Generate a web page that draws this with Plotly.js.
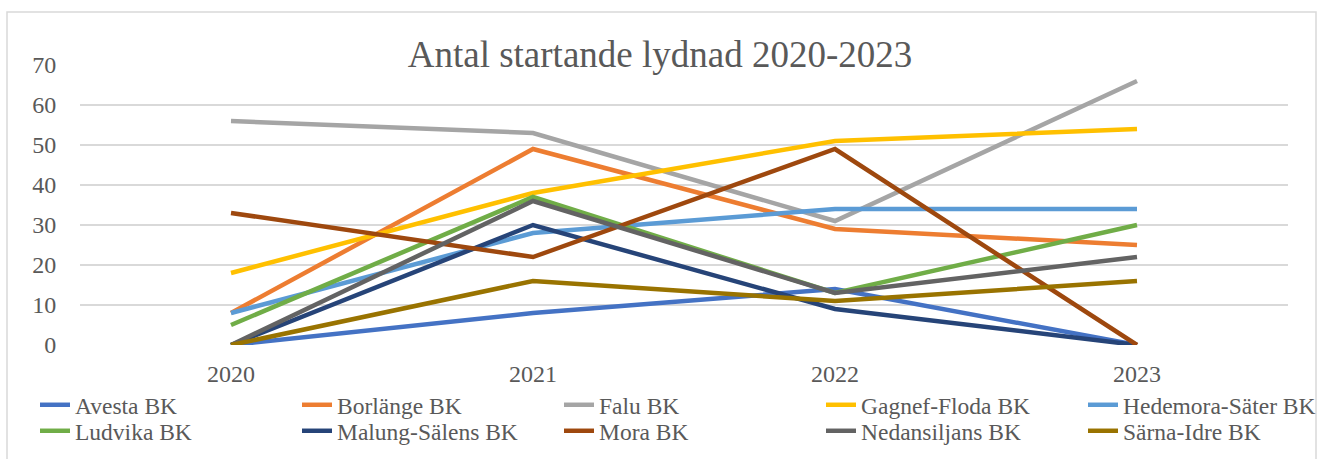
<!DOCTYPE html>
<html>
<head>
<meta charset="utf-8">
<script src="https://cdn.plot.ly/plotly-3.0.1.min.js"></script>
<style>html,body{margin:0;padding:0;background:#fff;}#chart{width:1320px;height:459px;}</style>
</head>
<body>
<div id="chart"></div>
<script>
const years = ["2020", "2021", "2022", "2023"];
const clubs = ["Avesta BK", "Borlänge BK", "Falu BK", "Gagnef-Floda BK", "Hedemora-Säter BK",
               "Ludvika BK", "Malung-Sälens BK", "Mora BK", "Nedansiljans BK", "Särna-Idre BK"];
const avesta      = [0, 8, 14, 0];
const borlange    = [8, 49, 29, 25];
const falu        = [56, 53, 31, 66];
const gagnef      = [18, 38, 51, 54];
const hedemora    = [8, 28, 34, 34];
const ludvika     = [5, 37, 13, 30];
const malung      = [0, 30, 9, 0];
const mora        = [33, 22, 49, 0];
const nedansiljan = [0, 36, 13, 22];
const sarna       = [0, 16, 11, 16];
const yTicks = [0, 10, 20, 30, 40, 50, 60, 70];

const seriesValues = [avesta, borlange, falu, gagnef, hedemora, ludvika, malung, mora, nedansiljan, sarna];
const colors = ["#4472C4", "#ED7D31", "#A5A5A5", "#FFC000", "#5B9BD5",
                "#70AD47", "#264478", "#9E480E", "#636363", "#997300"];

const W = 1320, H = 459;
const font = "Liberation Serif, Times New Roman, serif";
const textColor = "#595959";

const traces = clubs.map((name, i) => ({
  type: "scatter",
  mode: "lines",
  name: name,
  x: years,
  y: seriesValues[i],
  line: {color: colors[i], width: 4.5},
  hoverinfo: "skip",
  legend: i === 0 ? "legend" : "legend" + (i + 1)
}));

const layout = {
  width: W, height: H,
  paper_bgcolor: "#ffffff",
  plot_bgcolor: "#ffffff",
  margin: {l: 80, r: 32, t: 65, b: 114, autoexpand: false},
  font: {family: font, color: textColor, size: 24},
  title: {
    text: "Antal startande lydnad 2020-2023",
    font: {family: font, size: 37, color: textColor},
    x: 0.5, xref: "container", xanchor: "center",
    y: 1 - 54 / H, yref: "container", yanchor: "middle",
    automargin: false
  },
  xaxis: {
    type: "category",
    categoryorder: "array",
    categoryarray: years,
    range: [-0.5, 3.5],
    showgrid: false,
    zeroline: false,
    showline: false,
    automargin: false,
    tickangle: 0,
    ticks: "outside", ticklen: 7, tickcolor: "rgba(0,0,0,0)",
    tickfont: {family: font, size: 24, color: textColor},
    fixedrange: true
  },
  yaxis: {
    range: [0, 70],
    tickvals: yTicks,
    showgrid: true,
    gridcolor: "#d9d9d9",
    gridwidth: 1.5,
    zeroline: false,
    showline: false,
    automargin: false,
    ticks: "outside", ticklen: 18, tickcolor: "rgba(0,0,0,0)",
    tickfont: {family: font, size: 24, color: textColor},
    fixedrange: true
  },
  shapes: [{
    type: "rect", xref: "paper", yref: "paper",
    x0: (7 - 80) / 1208, x1: (1316 - 80) / 1208,
    y0: (345 - 480) / 280, y1: (345 - 12) / 280,
    line: {color: "#d9d9d9", width: 1.5},
    fillcolor: "rgba(0,0,0,0)",
    layer: "below"
  }],
  showlegend: true
};

// One legend per entry so each sits in its own column/row
const rowY = [405, 431];
for (let i = 0; i < clubs.length; i++) {
  const col = i % 5, row = Math.floor(i / 5);
  const key = i === 0 ? "legend" : "legend" + (i + 1);
  layout[key] = {
    xref: "container", yref: "container",
    x: (35 + 262 * col) / W, xanchor: "left",
    y: 1 - rowY[row] / H, yanchor: "middle",
    bgcolor: "rgba(0,0,0,0)",
    borderwidth: 0,
    font: {family: font, size: 23.5, color: textColor},
    itemclick: false, itemdoubleclick: false
  };
}

Plotly.newPlot("chart", traces, layout, {displayModeBar: false, staticPlot: true});
</script>
</body>
</html>
